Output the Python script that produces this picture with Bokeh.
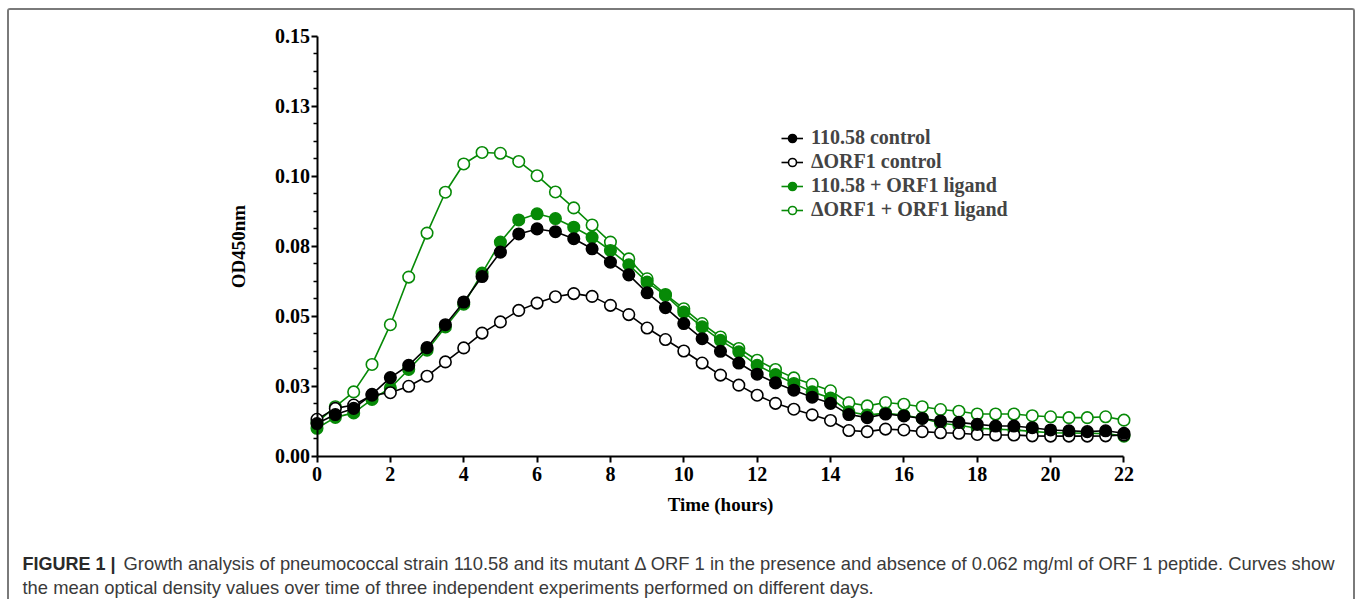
from bokeh.plotting import figure
from bokeh.models import Range1d, FixedTicker, Label, Legend, LegendItem
from bokeh.embed import file_html
from bokeh.resources import INLINE

hours = [0, 0.5, 1, 1.5, 2, 2.5, 3, 3.5, 4, 4.5, 5, 5.5, 6, 6.5, 7, 7.5,
         8, 8.5, 9, 9.5, 10, 10.5, 11, 11.5, 12, 12.5, 13, 13.5, 14, 14.5,
         15, 15.5, 16, 16.5, 17, 17.5, 18, 18.5, 19, 19.5, 20, 20.5, 21, 21.5, 22]

wt_control = [0.0116, 0.0148, 0.0170, 0.0220, 0.0280, 0.0324, 0.0387, 0.0469, 0.0550, 0.0641,
              0.0728, 0.0793, 0.0811, 0.0801, 0.0776, 0.0740, 0.0692, 0.0647, 0.0583, 0.0530,
              0.0473, 0.0419, 0.0374, 0.0332, 0.0292, 0.0261, 0.0235, 0.0210, 0.0188, 0.0148,
              0.0137, 0.0150, 0.0143, 0.0134, 0.0125, 0.0120, 0.0113, 0.0107, 0.0107, 0.0101,
              0.0093, 0.0090, 0.0087, 0.0090, 0.0081]
mut_control = [0.0131, 0.0170, 0.0182, 0.0217, 0.0226, 0.0249, 0.0285, 0.0336, 0.0386, 0.0439,
               0.0479, 0.0520, 0.0546, 0.0569, 0.0580, 0.0570, 0.0538, 0.0505, 0.0457, 0.0416,
               0.0375, 0.0332, 0.0289, 0.0253, 0.0217, 0.0188, 0.0167, 0.0147, 0.0127, 0.0091,
               0.0087, 0.0096, 0.0093, 0.0087, 0.0083, 0.0081, 0.0077, 0.0075, 0.0075, 0.0072,
               0.0071, 0.0071, 0.0071, 0.0072, 0.0075]
wt_ligand = [0.0099, 0.0138, 0.0154, 0.0202, 0.0243, 0.0309, 0.0378, 0.0461, 0.0542, 0.0653,
             0.0764, 0.0843, 0.0865, 0.0848, 0.0817, 0.0781, 0.0734, 0.0683, 0.0621, 0.0574,
             0.0514, 0.0461, 0.0413, 0.0372, 0.0324, 0.0291, 0.0259, 0.0229, 0.0207, 0.0158,
             0.0146, 0.0153, 0.0145, 0.0135, 0.0117, 0.0110, 0.0099, 0.0096, 0.0093, 0.0088,
             0.0083, 0.0082, 0.0081, 0.0080, 0.0071]
mut_ligand = [0.0120, 0.0176, 0.0229, 0.0327, 0.0469, 0.0639, 0.0796, 0.0942, 0.1043, 0.1084,
              0.1081, 0.1052, 0.1001, 0.0943, 0.0886, 0.0825, 0.0764, 0.0704, 0.0633, 0.0577,
              0.0526, 0.0473, 0.0425, 0.0384, 0.0342, 0.0309, 0.0279, 0.0256, 0.0233, 0.0190,
              0.0179, 0.0191, 0.0185, 0.0176, 0.0166, 0.0160, 0.0150, 0.0150, 0.0150, 0.0144,
              0.0140, 0.0137, 0.0137, 0.0140, 0.0128]

series_names = ["110.58 control", "\u0394ORF1 control", "110.58 + ORF1 ligand", "\u0394ORF1 + ORF1 ligand"]

x_ticks = [0, 2, 4, 6, 8, 10, 12, 14, 16, 18, 20, 22]
y_ticks = [0.0, 0.025, 0.05, 0.075, 0.1, 0.125, 0.15]
y_tick_labels = ["0.00", "0.03", "0.05", "0.08", "0.10", "0.13", "0.15"]
y_minor = [0.00625, 0.0125, 0.01875, 0.03125, 0.0375, 0.04375, 0.05625, 0.0625, 0.06875,
           0.08125, 0.0875, 0.09375, 0.10625, 0.1125, 0.11875, 0.13125, 0.1375, 0.14375]

caption_bold = "FIGURE 1 |"
caption_1 = ("Growth analysis of pneumococcal strain 110.58 and its mutant \u0394 ORF 1 in the presence "
             "and absence of 0.062 mg/ml of ORF 1 peptide. Curves show")
caption_2 = ("the mean optical density values over time of three independent experiments "
             "performed on different days.")

GREEN = "#078a07"
SERIF = "Liberation Serif"
SANS = "Liberation Sans"

# canvas geometry (px) and data-to-pixel scales used to place the frame
W, H = 1344, 589
X0_PX, XSCALE = 307.5, 36.68      # canvas x of t=0, px per hour
Y0_PX, YSCALE = 143.5, 2800.0     # canvas y (from bottom) of OD=0, px per OD unit

p = figure(output_backend="svg", toolbar_location=None,
           frame_width=W, frame_height=H, min_border=0,
           x_range=Range1d(-X0_PX / XSCALE, (W - X0_PX) / XSCALE),
           y_range=Range1d(-Y0_PX / YSCALE, (H - Y0_PX) / YSCALE))
p.styles = {"margin": "8px 0 0 7px",
            "border-top": "2px solid #7a7a7a", "border-left": "2px solid #7a7a7a",
            "border-right": "2px solid #7a7a7a", "border-top-left-radius": "3px",
            "border-top-right-radius": "3px"}
p.outline_line_color = None
p.grid.visible = False
p.background_fill_color = "white"

for ax in (p.xaxis[0], p.yaxis[0]):
    ax.fixed_location = 0
    ax.axis_line_width = 2
    ax.axis_line_color = "black"
    ax.major_tick_line_width = 2
    ax.major_tick_line_color = "black"
    ax.minor_tick_line_width = 1.5
    ax.minor_tick_line_color = "black"
    ax.major_tick_in = 0
    ax.major_tick_out = 6
    ax.minor_tick_in = 0
    ax.minor_tick_out = 4
    ax.major_label_text_font = SERIF
    ax.major_label_text_font_style = "bold"
    ax.major_label_text_font_size = "20px"
    ax.major_label_text_color = "black"
    ax.axis_label_text_font = SERIF
    ax.axis_label_text_font_style = "bold"
    ax.axis_label_text_font_size = "19px"
    ax.axis_label_text_color = "black"

p.xaxis.bounds = (0, 22)
p.yaxis.bounds = (0, 0.15)
p.xaxis.ticker = FixedTicker(ticks=x_ticks, minor_ticks=[])
p.yaxis.ticker = FixedTicker(ticks=y_ticks, minor_ticks=y_minor)
p.yaxis.major_label_overrides = {t: s for t, s in zip(y_ticks, y_tick_labels)}
p.xaxis.axis_label = "Time (hours)"
p.yaxis.axis_label = "OD450nm"
p.xaxis.major_label_standoff = 5
p.xaxis.axis_label_standoff = 9
p.yaxis.major_label_standoff = 1
p.yaxis.axis_label_standoff = 24

styles = [
    (wt_control, "black", "black"),
    (mut_control, "black", "white"),
    (wt_ligand, GREEN, GREEN),
    (mut_ligand, GREEN, "white"),
]
renderers = {}
for i in [3, 2, 1, 0]:
    ys, lc, fc = styles[i]
    r1 = p.line(hours, ys, line_color=lc, line_width=1.6)
    r2 = p.scatter(hours, ys, size=11.5, marker="circle", line_color=lc, fill_color=fc, line_width=1.6)
    renderers[i] = [r1, r2]

legend = Legend(items=[LegendItem(label=series_names[i], renderers=renderers[i]) for i in range(4)],
                location=(772, 378))
legend.border_line_color = None
legend.background_fill_alpha = 0
legend.padding = 0
legend.margin = 0
legend.spacing = 1
legend.glyph_width = 22
legend.glyph_height = 20
legend.label_standoff = 8
legend.label_text_font = SERIF
legend.label_text_font_style = "bold"
legend.label_text_font_size = "20px"
legend.label_height = 20
p.add_layout(legend, "center")

p.add_layout(Label(x=13, y=36, x_units="screen", y_units="screen", text=caption_bold,
                   text_font=SANS, text_font_style="bold", text_font_size="18px",
                   text_color="#2a2a2a", text_baseline="alphabetic"))
p.add_layout(Label(x=114, y=36, x_units="screen", y_units="screen", text=caption_1,
                   text_font=SANS, text_font_size="18.4px",
                   text_color="#3a3a3a", text_baseline="alphabetic"))
p.add_layout(Label(x=13, y=12, x_units="screen", y_units="screen", text=caption_2,
                   text_font=SANS, text_font_size="18.4px",
                   text_color="#3a3a3a", text_baseline="alphabetic"))

open("out.html", "w").write(file_html(p, INLINE))
